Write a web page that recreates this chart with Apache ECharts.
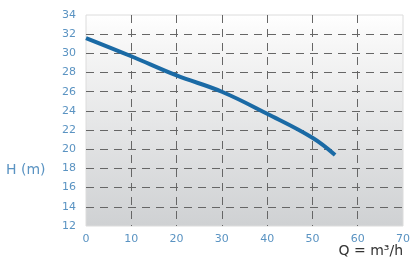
<!DOCTYPE html>
<html><head><meta charset="utf-8">
<script src="https://cdn.jsdelivr.net/npm/echarts@6/dist/echarts.min.js"></script>
<style>html,body{margin:0;padding:0;background:#fff}#c{width:413px;height:269px}</style>
</head><body><div id="c"></div>
<script>
const flowQ = [0, 10, 20, 30, 40, 50, 55];
const headH = [31.6, 29.7, 27.7, 26.0, 23.7, 21.2, 19.4];
const xTicks = [0, 10, 20, 30, 40, 50, 60, 70];
const yTicks = [12, 14, 16, 18, 20, 22, 24, 26, 28, 30, 32, 34];

const chart = echarts.init(document.getElementById('c'));
const labelColor = '#5a93c2';
chart.setOption({
  animation: false,
  grid: {
    left: 86, right: 10, top: 15, bottom: 43,
    show: true,
    borderColor: '#dcdcdc', borderWidth: 1,
    backgroundColor: new echarts.graphic.LinearGradient(0, 0, 0, 1, [
      {offset: 0, color: '#ffffff'},
      {offset: 0.15, color: '#f6f6f6'},
      {offset: 1, color: '#cfd1d3'}
    ])
  },
  xAxis: {
    type: 'value', min: xTicks[0], max: xTicks[xTicks.length - 1], interval: 10,
    axisLine: {show: false}, axisTick: {show: false},
    axisLabel: {color: labelColor, fontSize: 11, margin: 8, fontFamily: 'DejaVu Sans', formatter: v => String(v)},
    splitLine: {show: true, showMinLine: false, showMaxLine: false,
      lineStyle: {color: '#666', type: [8, 6], width: 1}}
  },
  yAxis: {
    type: 'value', min: yTicks[0], max: yTicks[yTicks.length - 1], interval: 2,
    axisLine: {show: false}, axisTick: {show: false},
    axisLabel: {color: labelColor, fontSize: 11, margin: 10, fontFamily: 'DejaVu Sans'},
    splitLine: {show: true, showMinLine: false, showMaxLine: false,
      lineStyle: {color: '#666', type: [8, 6], width: 1}}
  },
  graphic: [
    {type: 'text', left: 6, top: 163, style: {text: 'H (m)', fill: labelColor, font: '14px "DejaVu Sans"'}},
    {type: 'text', right: 10, top: 244, style: {text: 'Q = m³/h', fill: '#333', font: '14px "DejaVu Sans"'}}
  ],
  series: [{
    type: 'line', smooth: 0.4, symbol: 'none',
    data: flowQ.map((q, i) => [q, headH[i]]),
    lineStyle: {color: '#1a6aa5', width: 4}
  }]
});
</script></body></html>
